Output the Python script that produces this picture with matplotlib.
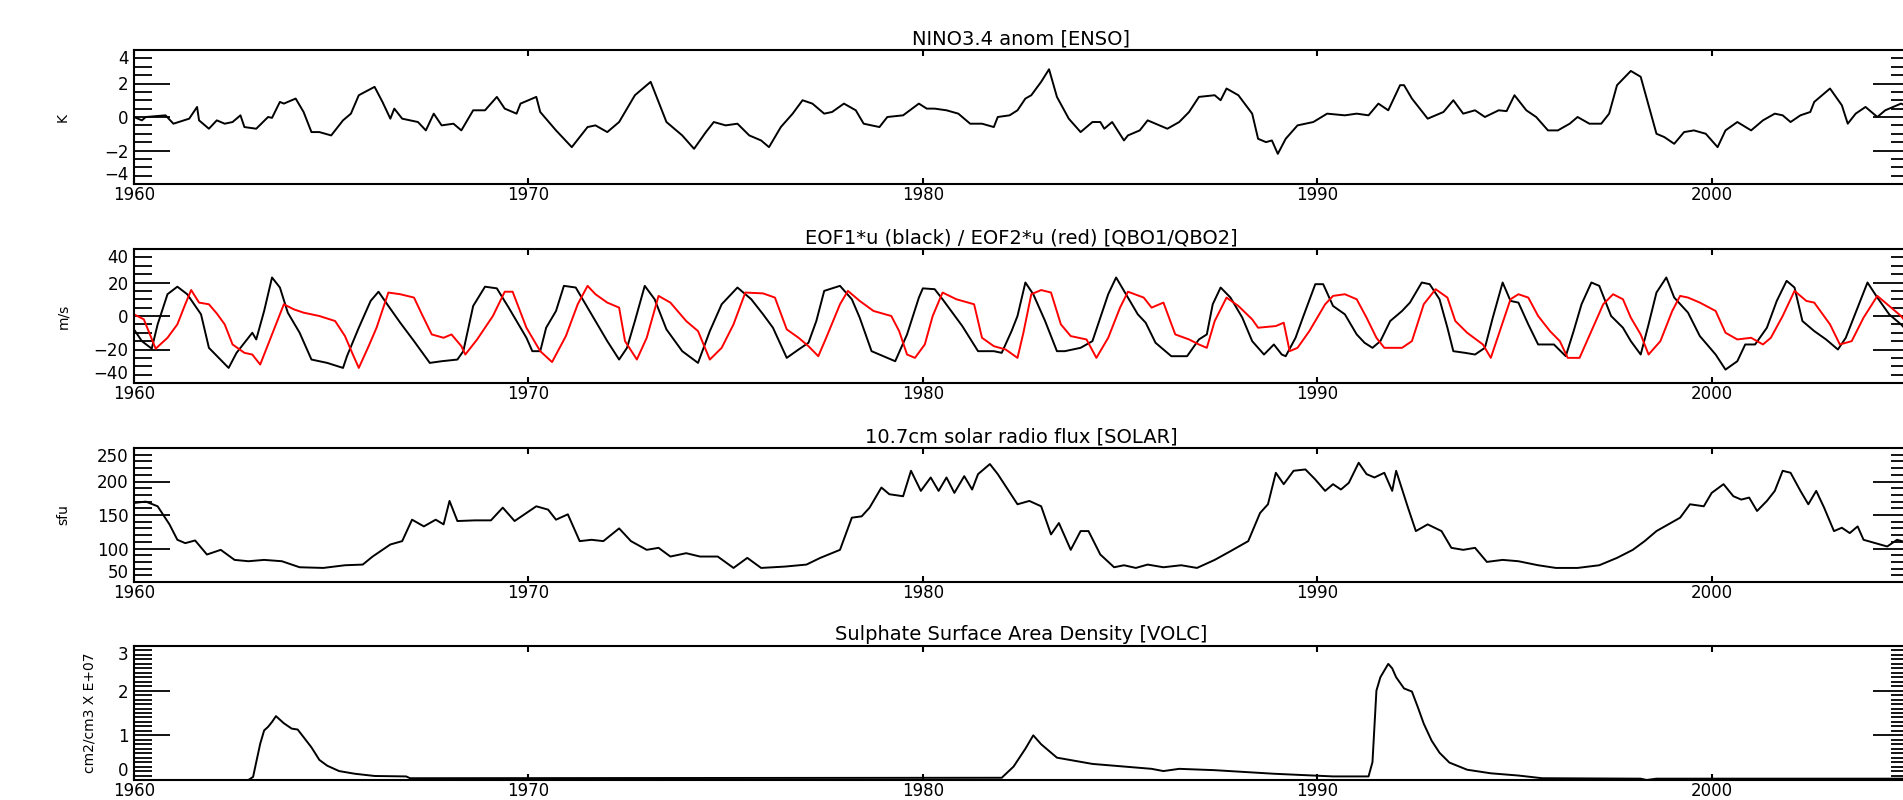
import numpy as np
import matplotlib.pyplot as plt
from matplotlib.ticker import MultipleLocator

# ENSO: NINO3.4 anomaly (K)
enso_years = [1960.0, 1960.2, 1960.3, 1960.8, 1961.0, 1961.4, 1961.6, 1961.65, 1961.9, 1962.1,
              1962.3, 1962.5, 1962.7, 1962.8, 1963.1, 1963.4, 1963.5, 1963.7, 1963.8, 1964.1,
              1964.3, 1964.5, 1964.7, 1965.0, 1965.3, 1965.5, 1965.7, 1966.1, 1966.3, 1966.5,
              1966.6, 1966.8, 1967.2, 1967.4, 1967.6, 1967.8, 1968.1, 1968.3, 1968.6, 1968.9,
              1969.2, 1969.4, 1969.7, 1969.8, 1970.2, 1970.3, 1970.7, 1971.1, 1971.5, 1971.7,
              1972.0, 1972.3, 1972.7, 1973.1, 1973.2, 1973.5, 1973.9, 1974.2, 1974.5, 1974.7,
              1975.0, 1975.3, 1975.6, 1975.9, 1976.1, 1976.4, 1976.7, 1976.95, 1977.2, 1977.5,
              1977.7, 1978.0, 1978.3, 1978.5, 1978.9, 1979.1, 1979.5, 1979.9, 1980.1, 1980.3,
              1980.6, 1980.9, 1981.2, 1981.5, 1981.8, 1981.9, 1982.2, 1982.4, 1982.6, 1982.75,
              1983.0, 1983.2, 1983.4, 1983.7, 1984.0, 1984.3, 1984.5, 1984.6, 1984.8, 1985.1,
              1985.2, 1985.5, 1985.7, 1986.2, 1986.5, 1986.75, 1987.0, 1987.4, 1987.55, 1987.7,
              1988.0, 1988.35, 1988.5, 1988.7, 1988.85, 1989.0, 1989.2, 1989.5, 1989.9, 1990.25,
              1990.7, 1991.0, 1991.3, 1991.55, 1991.8, 1992.1, 1992.2, 1992.4, 1992.8, 1993.2,
              1993.45, 1993.7, 1994.0, 1994.25, 1994.6, 1994.8, 1995.0, 1995.3, 1995.55, 1995.85,
              1996.1, 1996.4, 1996.6, 1996.9, 1997.2, 1997.4, 1997.6, 1997.95, 1998.2, 1998.4,
              1998.6, 1998.8, 1999.05, 1999.3, 1999.55, 1999.85, 2000.15, 2000.35, 2000.65, 2001.0,
              2001.3, 2001.6, 2001.8, 2002.0, 2002.25, 2002.5, 2002.6, 2003.0, 2003.3, 2003.45,
              2003.65, 2003.9, 2004.2, 2004.4, 2004.8, 2005.0]
enso_vals = [0.0, -0.2, 0.0, 0.1, -0.4, -0.1, 0.6, -0.2, -0.7, -0.2,
             -0.4, -0.3, 0.1, -0.6, -0.7, 0.0, -0.05, 0.9, 0.8, 1.1,
             0.3, -0.9, -0.9, -1.1, -0.2, 0.2, 1.3, 1.8, 0.9, -0.1,
             0.5, -0.1, -0.3, -0.8, 0.2, -0.5, -0.4, -0.8, 0.4, 0.4,
             1.2, 0.5, 0.2, 0.8, 1.2, 0.3, -0.8, -1.8, -0.6, -0.5,
             -0.9, -0.3, 1.3, 2.1, 1.5, -0.3, -1.1, -1.9, -0.9, -0.3,
             -0.5, -0.4, -1.1, -1.4, -1.8, -0.6, 0.2, 1.0, 0.8, 0.2,
             0.3, 0.8, 0.4, -0.4, -0.6, 0.0, 0.1, 0.8, 0.5, 0.5,
             0.4, 0.2, -0.4, -0.4, -0.6, 0.0, 0.1, 0.4, 1.1, 1.3,
             2.1, 2.85, 1.2, -0.1, -0.9, -0.3, -0.3, -0.7, -0.3, -1.4,
             -1.1, -0.8, -0.2, -0.7, -0.3, 0.3, 1.2, 1.3, 1.0, 1.7,
             1.3, 0.2, -1.3, -1.5, -1.4, -2.2, -1.3, -0.5, -0.3, 0.2,
             0.1, 0.2, 0.1, 0.8, 0.4, 1.9, 1.9, 1.1, -0.1, 0.3,
             1.0, 0.2, 0.4, 0.0, 0.4, 0.35, 1.3, 0.4, 0.0, -0.8,
             -0.8, -0.4, 0.0, -0.4, -0.4, 0.2, 1.9, 2.75, 2.4, 0.7,
             -1.0, -1.2, -1.6, -0.9, -0.8, -1.0, -1.8, -0.8, -0.3, -0.8,
             -0.2, 0.2, 0.1, -0.3, 0.1, 0.3, 0.9, 1.7, 0.7, -0.4,
             0.2, 0.6, 0.0, 0.4, 0.8, 0.6]

# QBO: EOF1*u (black) and EOF2*u (red), m/s
qbo1_years = [1960.0, 1960.2, 1960.45, 1960.6, 1960.85, 1961.1, 1961.35, 1961.7, 1961.9, 1962.4,
              1962.6, 1963.0, 1963.1, 1963.3, 1963.5, 1963.7, 1963.9, 1964.2, 1964.5, 1964.9,
              1965.3, 1965.4, 1965.7, 1966.0, 1966.2, 1966.45, 1966.75, 1967.1, 1967.5, 1967.8,
              1968.2, 1968.35, 1968.6, 1968.9, 1969.2, 1969.5, 1969.95, 1970.1, 1970.3, 1970.45,
              1970.7, 1970.9, 1971.2, 1971.55, 1972.0, 1972.3, 1972.5, 1972.7, 1972.95, 1973.2,
              1973.5, 1973.9, 1974.3, 1974.6, 1974.9, 1975.3, 1975.65, 1975.95, 1976.2, 1976.55,
              1976.85, 1977.1, 1977.3, 1977.5, 1977.9, 1978.2, 1978.4, 1978.7, 1979.1, 1979.3,
              1979.6, 1979.9, 1980.0, 1980.3, 1980.5, 1981.0, 1981.4, 1981.8, 1982.0, 1982.25,
              1982.4, 1982.6, 1982.8, 1983.1, 1983.4, 1983.6, 1984.0, 1984.3, 1984.5, 1984.7,
              1984.9, 1985.1, 1985.45, 1985.65, 1985.9, 1986.3, 1986.7, 1987.0, 1987.2, 1987.35,
              1987.55, 1987.8, 1988.1, 1988.35, 1988.65, 1988.9, 1989.1, 1989.2, 1989.45, 1989.65,
              1989.95, 1990.15, 1990.4, 1990.7, 1991.0, 1991.2, 1991.4, 1991.6, 1991.85, 1992.15,
              1992.35, 1992.65, 1992.85, 1993.1, 1993.3, 1993.45, 1993.75, 1994.0, 1994.25, 1994.45,
              1994.7, 1994.9, 1995.1, 1995.35, 1995.6, 1996.0, 1996.3, 1996.5, 1996.7, 1996.95,
              1997.15, 1997.45, 1997.75, 1997.95, 1998.2, 1998.4, 1998.6, 1998.85, 1999.05, 1999.4,
              1999.7, 2000.1, 2000.35, 2000.65, 2000.85, 2001.1, 2001.4, 2001.65, 2001.9, 2002.1,
              2002.3, 2002.6, 2002.9, 2003.2, 2003.4, 2003.65, 2003.95, 2004.2, 2004.5, 2004.8,
              2005.0]
qbo1_vals = [-8, -15, -19.5, -5, 13, 17.5, 13, 1, -19, -31,
             -22, -10, -14, 3, 23, 17, 2, -10, -26, -28,
             -31, -24, -7, 9, 14.5, 6, -4, -15, -28, -27,
             -26, -21, 6, 17.5, 16.5, 5, -13, -21, -21, -7,
             3, 18, 17, 3, -15, -26, -19, -3, 18, 10,
             -8, -21, -28, -9, 7, 17, 10, 1, -7, -25,
             -20, -16, -3, 15, 18, 10, -1, -21, -25, -27,
             -11, 11, 16.5, 16, 10, -6, -21, -21, -22, -9,
             0, 20, 13, -3, -21, -21, -19, -15, -1, 13,
             23, 15, 1, -4, -16, -24, -24, -14, -11, 7,
             17, 11, -1, -15, -23, -17, -23, -24, -13, 0,
             19, 19, 6, 1, -11, -16, -19, -15, -3, 3,
             8, 20, 19, 10, -7, -21, -22, -23, -19, -1,
             20, 9, 8, -5, -17, -17, -24, -9, 7, 20,
             18, 0, -7, -15, -23, -5, 14, 23, 11, 2,
             -12, -23, -32, -27, -17, -17, -7, 9, 21, 17,
             -3, -9, -14, -20, -13, 2, 20, 11, 1, -5,
             -10]
qbo2_years = [1960.0, 1960.25, 1960.55, 1960.85, 1961.1, 1961.3, 1961.45, 1961.65, 1961.9, 1962.1,
              1962.3, 1962.5, 1962.8, 1963.0, 1963.2, 1963.5, 1963.8, 1964.05, 1964.3, 1964.7,
              1965.1, 1965.35, 1965.55, 1965.7, 1965.95, 1966.15, 1966.45, 1966.75, 1967.1, 1967.3,
              1967.55, 1967.85, 1968.05, 1968.3, 1968.4, 1968.7, 1969.1, 1969.4, 1969.6, 1969.95,
              1970.3, 1970.6, 1970.95, 1971.25, 1971.5, 1971.7, 1972.0, 1972.3, 1972.45, 1972.75,
              1973.0, 1973.3, 1973.6, 1974.0, 1974.3, 1974.6, 1974.9, 1975.2, 1975.5, 1975.95,
              1976.25, 1976.55, 1976.85, 1977.1, 1977.35, 1977.55, 1977.9, 1978.1, 1978.4, 1978.75,
              1979.2, 1979.4, 1979.6, 1979.8, 1980.05, 1980.25, 1980.5, 1980.85, 1981.3, 1981.5,
              1981.8, 1982.1, 1982.4, 1982.55, 1982.75, 1983.0, 1983.25, 1983.5, 1983.75, 1984.15,
              1984.4, 1984.7, 1985.0, 1985.2, 1985.6, 1985.8, 1986.1, 1986.4, 1986.75, 1987.0,
              1987.2, 1987.4, 1987.7, 1988.0, 1988.35, 1988.5, 1988.95, 1989.15, 1989.3, 1989.5,
              1989.8, 1990.2, 1990.4, 1990.7, 1991.0, 1991.25, 1991.5, 1991.7, 1992.15, 1992.4,
              1992.7, 1993.0, 1993.3, 1993.5, 1993.8, 1994.2, 1994.4, 1994.6, 1994.9, 1995.1,
              1995.35, 1995.6, 1995.9, 1996.15, 1996.35, 1996.65, 1996.95, 1997.25, 1997.5, 1997.75,
              1997.95, 1998.2, 1998.4, 1998.7, 1999.0, 1999.2, 1999.4, 1999.7, 2000.1, 2000.35,
              2000.65, 2001.0, 2001.3, 2001.5, 2001.8, 2002.1, 2002.4, 2002.6, 2003.0, 2003.25,
              2003.55, 2003.85, 2004.2, 2004.5, 2004.8, 2005.0]
qbo2_vals = [1, -2, -19.5, -13, -5, 7, 15.5, 8, 7, 1.5,
             -5, -17, -22, -23, -29, -11, 7, 4, 2, 0,
             -3, -12, -23, -31, -18, -7, 14, 13, 11, 1,
             -11, -13, -11, -18, -23, -14, 0, 14.5, 14.5, -7,
             -21, -27.5, -12, 7, 18, 13, 8, 5, -15, -26,
             -13, 12, 8, -3, -9, -26, -19, -5, 14, 13.5,
             11, -8, -13, -18, -24, -13, 7, 15, 9, 3,
             0, -9, -23, -25, -17, 0, 14, 10, 7, -13,
             -18, -20, -25, -10, 13, 15.5, 14, -5, -12, -14,
             -25, -13, 5, 14.5, 11, 5, 8, -11, -14, -17,
             -19, -3, 11, 6, -2, -7, -6, -4, -21, -19,
             -9, 7, 12, 13, 10, -1, -13, -19, -19, -15,
             7, 16, 11, -3, -10, -17, -25, -11, 10, 13,
             11, 0, -9, -15, -25, -25, -9, 7, 13, 10,
             -1, -11, -23, -15, 3, 12, 11, 8, 3, -10,
             -14, -13, -17, -13, 0, 15, 9, 8, -5, -17,
             -15, -1, 12, 6, 0, -6]

# SOLAR: 10.7 cm radio flux (sfu)
solar_years = [1960.0, 1960.3, 1960.6, 1960.9, 1961.1, 1961.3, 1961.55, 1961.85, 1962.2, 1962.55,
               1962.9, 1963.3, 1963.75, 1964.2, 1964.8, 1965.35, 1965.8, 1966.05, 1966.5, 1966.8,
               1967.05, 1967.35, 1967.65, 1967.85, 1968.0, 1968.2, 1968.65, 1969.05, 1969.35, 1969.65,
               1969.9, 1970.2, 1970.5, 1970.7, 1971.0, 1971.3, 1971.6, 1971.9, 1972.3, 1972.6,
               1973.0, 1973.3, 1973.6, 1974.0, 1974.35, 1974.8, 1975.2, 1975.55, 1975.9, 1976.5,
               1977.05, 1977.4, 1977.9, 1978.2, 1978.45, 1978.65, 1978.95, 1979.15, 1979.5, 1979.7,
               1979.95, 1980.2, 1980.4, 1980.6, 1980.8, 1981.05, 1981.25, 1981.4, 1981.7, 1981.9,
               1982.1, 1982.4, 1982.7, 1983.0, 1983.25, 1983.45, 1983.75, 1984.0, 1984.2, 1984.5,
               1984.85, 1985.1, 1985.4, 1985.7, 1986.1, 1986.55, 1986.95, 1987.4, 1987.8, 1988.25,
               1988.55, 1988.75, 1988.95, 1989.15, 1989.4, 1989.7, 1989.95, 1990.2, 1990.4, 1990.6,
               1990.8, 1991.05, 1991.25, 1991.45, 1991.7, 1991.9, 1992.0, 1992.3, 1992.5, 1992.8,
               1993.15, 1993.4, 1993.7, 1994.0, 1994.3, 1994.7, 1995.1, 1995.6, 1996.05, 1996.6,
               1997.15, 1997.6, 1998.0, 1998.3, 1998.6, 1998.9, 1999.2, 1999.45, 1999.8, 2000.0,
               2000.3, 2000.55, 2000.75, 2000.95, 2001.15, 2001.4, 2001.6, 2001.8, 2002.0, 2002.25,
               2002.45, 2002.65, 2002.85, 2003.1, 2003.3, 2003.5, 2003.7, 2003.85, 2004.15, 2004.45,
               2004.7, 2005.0]
solar_vals = [168, 170, 163, 136, 113, 108, 112, 91, 98, 83,
              81, 83, 81, 72, 71, 75, 76, 88, 106, 111,
              143, 133, 143, 136, 171, 141, 142, 142, 161, 141,
              151, 163, 158, 143, 151, 111, 113, 111, 130, 111,
              98, 101, 88, 93, 88, 88, 71, 86, 71, 73,
              76, 86, 98, 146, 148, 161, 191, 181, 178, 216,
              186, 206, 186, 206, 183, 208, 188, 211, 226, 211,
              193, 166, 171, 163, 121, 138, 98, 126, 126, 91,
              72, 75, 71, 76, 72, 75, 71, 83, 96, 111,
              153, 166, 213, 196, 216, 218, 203, 186, 196, 188,
              198, 228, 211, 206, 213, 186, 216, 161, 126, 136,
              126, 101, 98, 101, 80, 83, 81, 75, 71, 71,
              75, 86, 98, 111, 126, 136, 146, 166, 163, 183,
              196, 178, 173, 176, 156, 171, 186, 216, 213, 186,
              166, 186, 161, 126, 131, 123, 133, 113, 108, 103,
              113, 108]

# VOLC: sulphate surface area density (cm2/cm3 x 1e-7)
volc_years = [1960.0, 1962.9, 1963.02, 1963.1, 1963.2, 1963.3, 1963.4, 1963.5, 1963.6, 1963.8,
              1964.0, 1964.15, 1964.3, 1964.5, 1964.7, 1964.9, 1965.2, 1965.6, 1966.1, 1966.9,
              1967.0, 1982.0, 1982.3, 1982.6, 1982.8, 1983.0, 1983.4, 1984.3, 1985.8, 1986.1,
              1986.5, 1987.4, 1988.9, 1990.4, 1991.3, 1991.4, 1991.5, 1991.6, 1991.8, 1991.9,
              1992.0, 1992.2, 1992.4, 1992.55, 1992.7, 1992.9, 1993.1, 1993.35, 1993.8, 1994.4,
              1995.1, 1995.7, 1998.2, 1998.35, 1998.6, 1998.8, 2005.0]
volc_vals = [0.0, 0.0, 0.07, 0.4, 0.81, 1.11, 1.19, 1.3, 1.43, 1.27,
             1.15, 1.13, 0.96, 0.73, 0.45, 0.32, 0.2, 0.14, 0.09, 0.08,
             0.04, 0.05, 0.3, 0.7, 1.0, 0.8, 0.5, 0.36, 0.25, 0.2,
             0.25, 0.22, 0.14, 0.08, 0.08, 0.4, 2.0, 2.3, 2.6, 2.5,
             2.3, 2.05, 1.98, 1.63, 1.26, 0.88, 0.61, 0.39, 0.23, 0.15,
             0.1, 0.04, 0.03, 0.0, 0.03, 0.03, 0.03]

decade_ticks = [1960, 1970, 1980, 1990, 2000]
decade_labels = ['1960', '1970', '1980', '1990', '2000']

panels = [
    ('NINO3.4 anom [ENSO]', 'K', (-4, 4), 2, 0.5),
    ('EOF1*u (black) / EOF2*u (red) [QBO1/QBO2]', 'm/s', (-40, 40), 20, 5),
    ('10.7cm solar radio flux [SOLAR]', 'sfu', (50, 250), 50, 10),
    ('Sulphate Surface Area Density [VOLC]', 'cm2/cm3 X E+07', (0, 3), 1, 0.1),
]
series = [
    [(enso_years, enso_vals, 'black')],
    [(qbo1_years, qbo1_vals, 'black'), (qbo2_years, qbo2_vals, 'red')],
    [(solar_years, solar_vals, 'black')],
    [(volc_years, volc_vals, 'black')],
]

fig = plt.figure(figsize=(19.03, 8.0), dpi=100)
bottoms = [0.77, 0.52125, 0.2725, 0.025]
left, width, height = 0.0704, 0.9327, 0.1675

for i, (title, ylab, ylim, major, minor) in enumerate(panels):
    ax = fig.add_axes([left, bottoms[i], width, height])
    for xs, ys, col in series[i]:
        ax.plot(xs, ys, color=col, lw=1.4)
    ax.set_xlim(1960, 2005)
    ax.set_ylim(*ylim)
    ax.set_xticks(decade_ticks)
    ax.set_xticklabels(decade_labels)
    ax.set_yticks(np.arange(ylim[0], ylim[1] + major / 2, major))
    ax.yaxis.set_minor_locator(MultipleLocator(minor))
    ax.tick_params(axis='x', which='major', direction='in', top=True, bottom=True,
                   length=4, width=1.5, labelsize=12, pad=1.5)
    ax.tick_params(axis='y', which='major', direction='in', left=True, right=True,
                   length=26, width=1.3, labelsize=12, pad=4)
    ax.tick_params(axis='y', which='minor', direction='in', left=True, right=True,
                   length=13, width=1.3)
    # end labels are kept inside the axis range, like the original plot
    ylabels = ax.get_yticklabels()
    ylabels[0].set_verticalalignment('bottom')
    ylabels[-1].set_verticalalignment('top')
    for sp in ax.spines.values():
        sp.set_linewidth(1.5)
    ax.set_title(title, fontsize=14, pad=4)
    ax.set_ylabel(ylab, fontsize=10)
    ax.yaxis.set_label_coords(-0.036 if i < 3 else -0.021, 0.5)

fig.savefig('out.png', dpi=100)
